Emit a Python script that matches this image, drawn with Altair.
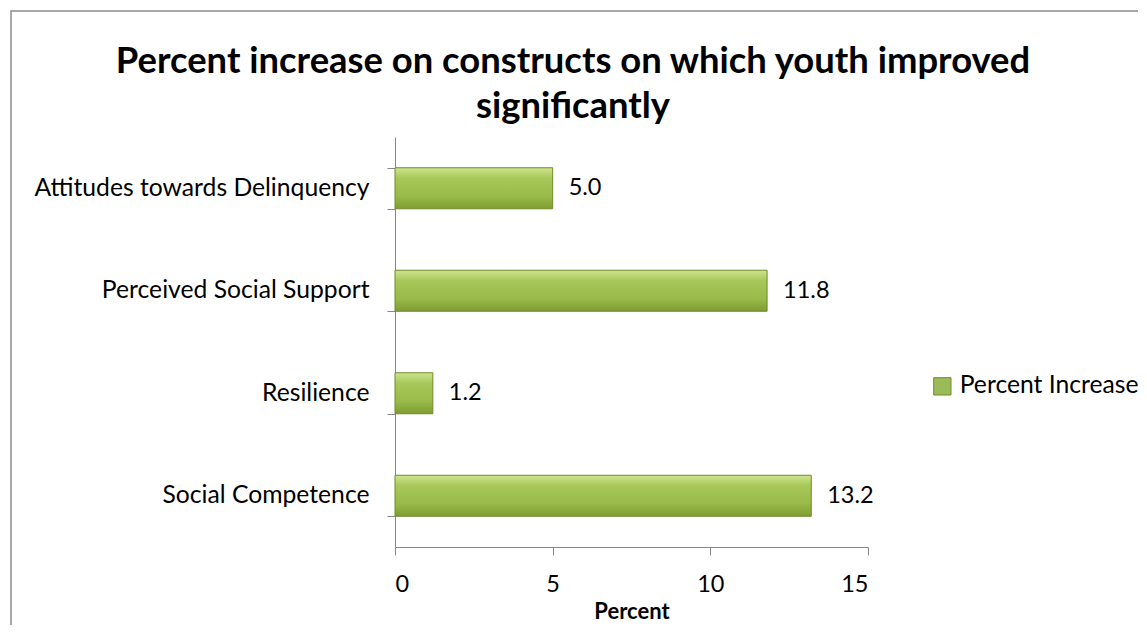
import altair as alt
import pandas as pd

categories = ["Attitudes towards Delinquency", "Perceived Social Support", "Resilience", "Social Competence"]
values = [5.0, 11.8, 1.2, 13.2]
series = ["Percent Increase"] * 4
x_ticks = [0, 5, 10, 15]
title_lines = ["Percent increase on constructs on which youth improved", "significantly"]

df = pd.DataFrame({"construct": categories, "value": values, "series": series})
df["label"] = [f"{v:.1f}" for v in values]

FONT = "Lato"
FS_CAT = 24.7
FS_NUM = 23.5

y_enc = alt.Y("construct:N", sort=categories, title=None,
              scale=alt.Scale(paddingInner=0.6, paddingOuter=0.3),
              axis=alt.Axis(tickBand="extent", tickSize=8, tickColor="#868686",
                            domainColor="#868686", labelFontSize=FS_CAT, labelFont=FONT,
                            labelColor="#000000", labelPadding=18, labelLimit=400, grid=False))
x_enc = alt.X("value:Q", title="Percent",
              scale=alt.Scale(domain=[0, 15], nice=False),
              axis=alt.Axis(values=x_ticks, tickSize=8, tickColor="#868686",
                            domainColor="#868686", labelFontSize=FS_NUM, labelFont=FONT,
                            labelColor="#000000", labelPadding=17, grid=False,
                            titleFont=FONT, titleFontSize=22, titleFontWeight="bold",
                            titlePadding=6, titleColor="#000000"))

base = alt.Chart(df)

border = base.mark_rect(fill=None, stroke="#8c8c8c", strokeWidth=1.5).encode(
    x=alt.value(-384), x2=alt.value(800), y=alt.value(-126), y2=alt.value(560)
).transform_filter(alt.datum.construct == categories[0])

title = base.mark_text(align="center", baseline="alphabetic", font=FONT, fontSize=36.4,
                       fontWeight="bold", color="#000000", lineHeight=45).encode(
    x=alt.value(178), y=alt.value(-64), text=alt.value(title_lines)
).transform_filter(alt.datum.construct == categories[0])

grad = alt.Gradient(
    gradient="linear", x1=0, x2=0, y1=0, y2=1,
    stops=[alt.GradientStop(color="#cfe58f", offset=0),
           alt.GradientStop(color="#a8c85a", offset=0.25),
           alt.GradientStop(color="#98ba48", offset=0.7),
           alt.GradientStop(color="#7f9c33", offset=1)])

bars = base.mark_bar(fill=grad, stroke="#6f8b2b", strokeWidth=1).encode(y=y_enc, x=x_enc)

labels = base.mark_text(align="left", baseline="middle", dx=16, fontSize=FS_NUM,
                        font=FONT, color="#000000").encode(
    y=alt.Y("construct:N", sort=categories), x="value:Q", text="label:N")

legend_layer = base.mark_square(size=0).encode(
    y=alt.Y("construct:N", sort=categories), x="value:Q",
    color=alt.Color("series:N", scale=alt.Scale(range=["#9bbb59"]),
                    legend=alt.Legend(title=None, orient="none", legendX=535, legendY=237,
                                      symbolType="square", symbolSize=300, symbolOpacity=1,
                                      symbolStrokeColor="#6f8b2b", symbolStrokeWidth=1,
                                      labelFont=FONT, labelFontSize=FS_CAT, labelColor="#000000",
                                      labelLimit=300, labelOffset=5)))

chart = alt.layer(border, title, bars, labels, legend_layer).properties(
    width=473, height=410,
    background="#ffffff",
    autosize=alt.AutoSizeParams(type="none"),
    padding={"left": 387, "top": 129, "right": 270, "bottom": 78},
).configure_view(stroke="transparent", strokeWidth=0)

chart.save("out.html", embed_options={"renderer": "svg", "actions": False})
